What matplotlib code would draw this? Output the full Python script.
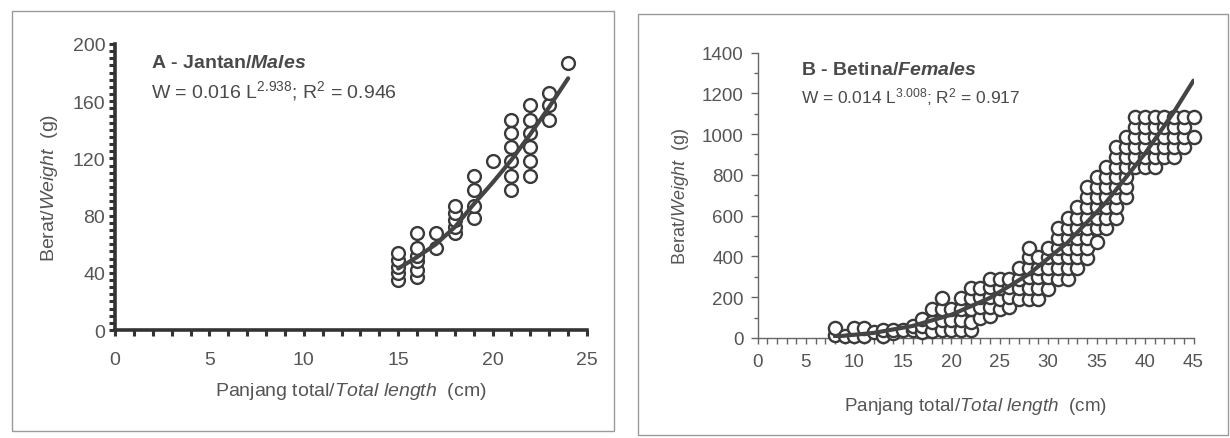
import matplotlib
matplotlib.use('Agg')
import matplotlib.pyplot as plt
from matplotlib.patches import Rectangle
from matplotlib.ticker import MultipleLocator

plt.rcParams['font.family'] = ['Liberation Sans', 'DejaVu Sans']
plt.rcParams['mathtext.fontset'] = 'custom'
plt.rcParams['mathtext.rm'] = 'Liberation Sans'
plt.rcParams['mathtext.it'] = 'Liberation Sans:italic'
plt.rcParams['mathtext.bf'] = 'Liberation Sans:bold'
plt.rcParams['mathtext.bfit'] = 'Liberation Sans:bold:italic'

# ── Panel A: males (length cm -> weight g), one list of weights per length ──
A_LENGTHS = [15, 16, 17, 18, 19, 20, 21, 22, 23, 24]
A_WEIGHTS = [
    [35, 40, 44, 49, 54],
    [37, 42, 48, 52, 57, 68],
    [57, 68],
    [68, 72, 77, 82, 87],
    [78, 87, 98, 108],
    [118],
    [98, 108, 118, 128, 138, 147],
    [108, 118, 128, 138, 147, 157],
    [147, 157, 166],
    [187],
]
# fitted curve
A_FIT_L = [15, 16, 17, 18, 19, 20, 21, 22, 23, 24]
A_FIT_W = [43, 51, 60, 72, 88, 103, 119, 137, 156, 176]

# ── Panel B: females ──
B_LENGTHS = list(range(8, 46))
B_WEIGHTS = [
    [15, 50], [10], [10, 50], [10, 50], [30], [10, 40], [25, 40], [40],
    [40, 60], [30, 60, 95], [35, 80, 140], [40, 90, 140, 195], [40, 90, 140],
    [40, 90, 140, 195], [40, 80, 140, 195, 245], [100, 150, 200, 245],
    [110, 150, 200, 250, 290], [140, 190, 245, 290], [150, 200, 250, 290],
    [190, 245, 290, 345], [190, 245, 300, 345, 395, 440],
    [190, 245, 300, 345, 395], [240, 300, 345, 395, 440],
    [290, 345, 395, 440, 490, 540], [290, 345, 395, 440, 490, 540, 590],
    [345, 395, 440, 490, 540, 590, 640],
    [390, 440, 490, 540, 590, 640, 690, 740],
    [470, 540, 590, 640, 690, 740, 790],
    [540, 590, 640, 690, 740, 790, 840],
    [590, 640, 690, 740, 790, 840, 890, 935],
    [690, 740, 790, 840, 890, 935, 985],
    [840, 890, 935, 985, 1035, 1085], [840, 890, 935, 985, 1035, 1085],
    [840, 890, 935, 985, 1035, 1085], [890, 935, 985, 1035, 1085],
    [890, 935, 985, 1035, 1085], [935, 985, 1035, 1085], [985, 1085],
]
B_FIT_L = [8, 12, 16, 20, 24, 28, 32, 36, 40, 43, 45]
B_FIT_W = [7, 25, 59, 114, 197, 313, 468, 667, 905, 1110, 1262]


def flat(lengths, weights):
    xs, ys = [], []
    for L, ws in zip(lengths, weights):
        for w in ws:
            xs.append(L)
            ys.append(w)
    return xs, ys


W, H = 1230, 439
fig = plt.figure(figsize=(W / 100, H / 100), dpi=100)
fig.patch.set_facecolor('white')

# panel frames
fig.patches.append(Rectangle((12 / W, 1 - 432 / H), 602 / W, 420 / H,
                             transform=fig.transFigure, fill=False,
                             edgecolor='#9a9a9a', lw=1.0))
fig.patches.append(Rectangle((638 / W, 1 - 436 / H), 590 / W, 421 / H,
                             transform=fig.transFigure, fill=False,
                             edgecolor='#9a9a9a', lw=1.0))

TXT = '#555555'
DARK = '#3a3a3a'

# ── Panel A ──
axA = fig.add_axes([115 / W, 1 - 331 / H, 472 / W, 286 / H])
xa, ya = flat(A_LENGTHS, A_WEIGHTS)
axA.scatter(xa, ya, s=85, facecolor='white', edgecolor=DARK, linewidth=1.7,
            zorder=3, clip_on=False)
axA.plot(A_FIT_L, A_FIT_W, color='#444444', lw=3, zorder=4, solid_capstyle='round')
axA.set_xlim(0, 25)
axA.set_ylim(0, 200)
axA.xaxis.set_major_locator(MultipleLocator(5))
axA.xaxis.set_minor_locator(MultipleLocator(1))
axA.yaxis.set_major_locator(MultipleLocator(40))
axA.yaxis.set_minor_locator(MultipleLocator(5))
for s in ('top', 'right'):
    axA.spines[s].set_visible(False)
for s in ('left', 'bottom'):
    axA.spines[s].set_color('#333333')
    axA.spines[s].set_linewidth(2.6)
axA.tick_params(axis='both', which='both', direction='out', length=4, width=2.2,
                color='#333333')
axA.tick_params(axis='x', which='major', pad=11, labelsize=14, labelcolor=TXT)
axA.tick_params(axis='y', which='major', pad=3, labelsize=14, labelcolor=TXT)
axA.set_xlabel(r'Panjang total/$\mathit{Total\ length}$  (cm)', fontsize=14,
               color=TXT, labelpad=9)
axA.set_ylabel(r'Berat/$\mathit{Weight}$  (g)', fontsize=14, color=TXT, labelpad=9)
axA.text(0.076, 0.937, r'A - Jantan/$\mathbfit{Males}$', transform=axA.transAxes,
         fontsize=14, fontweight='bold', color='#4a4a4a', va='center')
axA.text(0.076, 0.839, r'W = 0.016 L$^{2.938}$; R$^{2}$ = 0.946', transform=axA.transAxes,
         fontsize=14, color='#4a4a4a', va='center')

# ── Panel B ──
axB = fig.add_axes([757.5 / W, 1 - 339 / H, 436 / W, 285.5 / H])
xb, yb = flat(B_LENGTHS, B_WEIGHTS)
axB.scatter(xb, yb, s=90, facecolor='white', edgecolor=DARK, linewidth=1.7,
            zorder=3, clip_on=False)
axB.plot(B_FIT_L, B_FIT_W, color='#444444', lw=3, zorder=4, solid_capstyle='round')
axB.set_xlim(0, 45)
axB.set_ylim(0, 1400)
axB.xaxis.set_major_locator(MultipleLocator(5))
axB.xaxis.set_minor_locator(MultipleLocator(1))
axB.yaxis.set_major_locator(MultipleLocator(200))
axB.yaxis.set_minor_locator(MultipleLocator(100))
for s in ('top', 'right'):
    axB.spines[s].set_visible(False)
for s in ('left', 'bottom'):
    axB.spines[s].set_color('#666666')
    axB.spines[s].set_linewidth(1.0)
axB.tick_params(axis='both', which='both', direction='out', color='#666666', width=1)
axB.tick_params(axis='x', which='both', length=4)
axB.tick_params(axis='y', which='major', length=5)
axB.tick_params(axis='y', which='minor', length=3)
axB.tick_params(axis='x', which='major', pad=7, labelsize=13.5, labelcolor=TXT)
axB.tick_params(axis='y', which='major', pad=5, labelsize=13.5, labelcolor=TXT)
axB.set_xlabel(r'Panjang total/$\mathit{Total\ length}$  (cm)', fontsize=13.6,
               color=TXT, labelpad=9)
axB.xaxis.set_label_coords(0.5, -0.2)
axB.set_ylabel(r'Berat/$\mathit{Weight}$  (g)', fontsize=13, color=TXT, labelpad=8)
axB.text(0.1, 0.942, r'B - Betina/$\mathbfit{Females}$', transform=axB.transAxes,
         fontsize=14, fontweight='bold', color='#4a4a4a', va='center')
axB.text(0.1, 0.848, r'W = 0.014 L$^{3.008}$; R$^{2}$ = 0.917', transform=axB.transAxes,
         fontsize=12.5, color='#4a4a4a', va='center')

fig.savefig('out.png', dpi=100)
